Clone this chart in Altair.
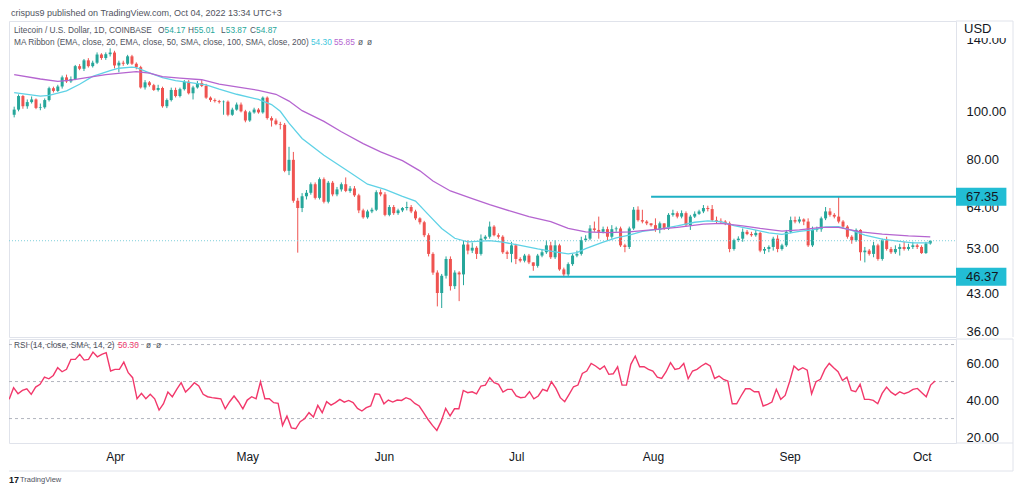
import altair as alt
import pandas as pd

# ---------------- data ----------------
START_DATE = "2022-03-08"
FIRST_OPEN = 98.7
CLOSE = [
    101.1, 107.7, 102.7, 104.7, 106.0, 101.9, 102.2, 105.7, 111.7, 110.3,
    112.6, 117.5, 115.3, 116.6, 123.8, 122.3, 127.2, 123.8, 125.8, 130.7,
    128.6, 130.9, 131.9, 124.2, 125.8, 125.2, 129.6, 125.2, 123.2, 112.1,
    114.8, 113.3, 110.8, 111.8, 102.7, 105.7, 110.8, 107.7, 111.2, 115.1,
    109.1, 112.1, 114.4, 112.9, 106.9, 105.7, 105.2, 104.7, 104.9, 98.7,
    101.1, 103.5, 100.3, 96.1, 99.8, 101.1, 99.8, 106.9, 97.2, 96.1,
    94.5, 94.2, 76.0, 80.0, 66.1, 63.9, 67.5, 68.6, 71.4, 67.0,
    73.1, 65.8, 71.9, 68.1, 69.7, 71.4, 69.2, 70.0, 67.8, 63.2,
    61.2, 62.9, 63.4, 68.8, 68.1, 61.9, 64.2, 62.4, 63.2, 63.9,
    64.2, 62.9, 60.9, 59.8, 56.3, 51.6, 47.3, 43.0, 46.6, 50.4,
    44.4, 47.3, 46.9, 53.9, 52.4, 53.1, 51.6, 55.4, 55.9, 58.6,
    56.3, 55.9, 52.0, 51.6, 53.7, 50.4, 50.0, 51.2, 49.6, 48.8,
    51.2, 52.0, 53.7, 50.8, 53.7, 48.0, 46.9, 49.2, 51.2, 51.6,
    55.0, 55.4, 58.1, 57.7, 57.2, 57.9, 55.9, 57.9, 58.1, 53.7,
    53.3, 58.1, 63.4, 60.4, 60.0, 59.5, 59.0, 57.7, 59.5, 58.1,
    61.9, 62.4, 61.4, 62.4, 59.0, 61.4, 62.2, 62.9, 63.9, 63.6,
    60.4, 60.2, 60.0, 59.5, 52.8, 55.0, 55.4, 57.2, 56.6, 56.3,
    56.9, 52.4, 52.8, 53.3, 55.4, 52.8, 53.7, 57.2, 60.4, 60.0,
    60.6, 60.0, 53.7, 57.7, 57.9, 60.9, 62.9, 61.9, 61.4, 60.0,
    58.6, 55.9, 55.0, 57.7, 52.0, 52.4, 51.6, 53.7, 50.4, 55.0,
    52.8, 52.0, 52.8, 53.3, 52.8, 53.3, 53.7, 53.3, 51.8, 54.17,
    54.87,
]
HIGH = [
    102.5, 108.5, 108.2, 106.0, 107.5, 106.5, 104.0, 106.5, 112.5, 112.5,
    113.5, 118.5, 119.0, 118.0, 124.5, 125.0, 128.0, 128.5, 127.0, 132.0,
    131.5, 132.0, 134.5, 133.0, 127.0, 127.0, 130.5, 130.5, 126.0, 124.0,
    116.0, 115.5, 114.0, 113.5, 112.5, 106.5, 112.0, 112.0, 112.0, 116.0,
    116.0, 113.0, 115.5, 116.0, 114.0, 107.5, 106.5, 105.8, 105.5, 105.5,
    102.0, 104.5, 104.5, 101.0, 100.5, 102.0, 101.8, 107.5, 107.5, 98.0,
    97.0, 95.5, 95.0, 85.0, 83.0, 67.0, 68.5, 69.5, 72.0, 72.0,
    73.7, 73.7, 72.5, 72.5, 70.5, 72.0, 73.7, 70.8, 70.8, 68.3,
    63.7, 63.4, 64.0, 69.4, 69.7, 68.8, 64.8, 64.8, 63.7, 64.2,
    65.8, 64.8, 63.4, 61.2, 60.2, 56.8, 52.0, 47.8, 47.0, 51.0,
    51.0, 47.8, 47.6, 54.8, 55.0, 54.4, 53.5, 56.5, 56.3, 60.0,
    59.0, 56.8, 56.3, 52.4, 54.6, 54.1, 50.8, 51.6, 51.6, 49.6,
    51.6, 52.8, 55.0, 54.6, 55.0, 54.1, 48.4, 49.6, 51.6, 52.4,
    55.9, 56.3, 59.0, 60.0, 61.4, 58.6, 58.6, 59.0, 58.6, 58.6,
    54.1, 58.6, 64.2, 64.4, 63.4, 60.4, 59.5, 60.9, 60.0, 59.5,
    62.4, 63.4, 62.9, 63.2, 62.9, 61.9, 62.9, 63.4, 64.8, 64.6,
    64.8, 61.4, 60.9, 60.4, 60.0, 55.4, 56.0, 58.1, 57.7, 57.2,
    57.7, 57.2, 53.3, 53.7, 55.9, 56.3, 54.1, 57.7, 61.4, 61.4,
    61.4, 60.9, 60.9, 58.6, 58.6, 61.4, 64.2, 63.9, 62.4, 67.3,
    60.4, 59.0, 56.3, 58.1, 57.9, 53.3, 52.8, 54.6, 54.1, 55.4,
    55.9, 53.3, 53.7, 54.1, 54.6, 54.1, 54.6, 54.1, 53.7, 54.6,
    55.01,
]
LOW = [
    97.5, 100.3, 101.5, 101.5, 104.0, 101.3, 100.8, 101.5, 105.0, 109.5,
    109.8, 111.5, 114.5, 114.5, 116.0, 121.5, 121.0, 123.0, 123.0, 125.0,
    127.5, 127.5, 129.5, 122.5, 120.3, 124.0, 124.5, 124.5, 122.0, 111.5,
    111.0, 112.5, 110.3, 110.0, 102.0, 101.8, 105.0, 107.0, 107.0, 110.5,
    108.5, 106.0, 111.5, 112.3, 106.3, 104.8, 104.5, 104.0, 98.7, 98.0,
    98.2, 100.6, 99.8, 95.3, 95.5, 99.2, 99.2, 99.2, 96.5, 93.4,
    94.0, 92.2, 75.5, 74.5, 65.5, 51.9, 62.7, 66.5, 68.0, 66.5,
    66.5, 65.3, 65.3, 67.5, 67.5, 69.0, 68.8, 68.6, 67.3, 62.4,
    60.8, 60.8, 62.4, 63.0, 67.5, 61.5, 61.5, 61.9, 61.9, 62.7,
    63.2, 62.4, 60.4, 59.2, 55.8, 51.0, 46.8, 40.4, 40.1, 46.0,
    43.5, 43.8, 41.4, 44.6, 51.5, 51.8, 50.4, 51.2, 55.0, 55.4,
    56.0, 55.4, 51.6, 50.4, 49.6, 49.2, 49.6, 49.6, 49.2, 47.7,
    48.4, 50.8, 51.6, 50.4, 50.4, 47.7, 46.3, 46.4, 48.8, 50.8,
    51.2, 54.6, 55.0, 57.2, 55.4, 56.8, 55.0, 55.4, 57.2, 53.3,
    52.0, 52.8, 57.7, 60.0, 59.5, 59.0, 58.6, 57.2, 56.8, 57.7,
    57.7, 61.4, 60.9, 60.9, 58.6, 57.7, 61.0, 61.9, 62.4, 62.9,
    60.0, 59.5, 59.5, 59.0, 52.0, 52.4, 54.6, 54.6, 56.3, 55.9,
    55.9, 52.0, 51.6, 52.0, 52.4, 52.0, 52.4, 53.3, 56.8, 59.5,
    59.5, 59.0, 53.3, 53.3, 57.2, 57.2, 60.4, 61.4, 60.9, 59.5,
    58.1, 55.4, 54.1, 54.6, 50.0, 49.6, 51.2, 50.8, 50.0, 50.0,
    52.4, 51.6, 51.6, 51.2, 52.4, 52.4, 52.8, 52.8, 51.6, 51.6,
    53.87,
]

EMA20_IDX = [0, 6, 8, 12, 15, 18, 22, 24, 27, 28, 31, 34, 37, 40, 44, 47, 51, 56, 59, 61,
             63, 66, 71, 77, 81, 85, 89, 92, 95, 98, 101, 104, 109, 112, 116, 120, 124, 127, 129, 131,
             135, 138, 141, 144, 148, 152, 156, 159, 162, 165, 169, 173, 176, 180, 183, 186, 189, 192, 195, 199,
             203, 206, 210]
EMA20_VAL = [109.4, 107.7, 108.0, 110.3, 113.8, 118.0, 121.3, 122.6, 123.2, 123.0, 120.0, 117.3, 115.7, 114.8, 113.5, 111.2, 108.6, 106.0, 103.5, 100.3,
             94.9, 88.4, 81.7, 75.4, 71.4, 69.7, 67.5, 66.0, 61.9, 58.1, 55.5, 54.6, 54.9, 54.5, 53.7, 52.8, 52.1, 51.6, 51.9, 52.9,
             54.5, 55.6, 56.3, 57.3, 57.9, 58.8, 59.8, 60.2, 60.0, 58.9, 57.9, 56.9, 56.5, 57.3, 57.7, 58.5, 58.6, 57.6, 56.3, 55.3,
             54.7, 54.3, 54.30]
SMA50_IDX = [0, 6, 10, 13, 17, 21, 25, 28, 31, 34, 38, 43, 47, 51, 56, 60, 63, 66, 71, 75,
             80, 84, 89, 93, 96, 100, 105, 109, 114, 118, 123, 127, 131, 136, 141, 146, 152, 158, 162, 167,
             171, 176, 180, 185, 189, 194, 199, 205, 210]
SMA50_VAL = [119.0, 116.6, 115.3, 116.0, 117.5, 119.0, 120.0, 120.7, 119.8, 117.9, 117.1, 116.2, 113.8, 112.4, 110.6, 108.6, 105.2, 100.6, 95.7, 91.2,
             86.3, 83.0, 79.7, 76.0, 72.5, 69.2, 66.8, 64.9, 62.9, 61.4, 60.0, 58.1, 57.2, 57.0, 57.2, 57.7, 58.4, 59.3, 59.5, 58.8,
             58.1, 57.4, 57.7, 58.4, 58.4, 57.2, 56.6, 56.1, 55.85]
RSI14 = [
    40.4, 46.7, 43.4, 45.2, 46.1, 43.1, 47.0, 48.5, 52.4, 51.5,
    53.3, 57.5, 55.3, 56.6, 62.0, 62.0, 64.7, 61.6, 62.0, 65.9,
    63.4, 64.7, 65.6, 55.7, 56.6, 56.6, 60.5, 54.8, 52.1, 40.7,
    43.6, 40.7, 43.1, 40.7, 34.6, 38.0, 44.3, 41.8, 45.8, 49.4,
    44.3, 46.7, 49.4, 47.6, 43.1, 41.8, 41.3, 41.0, 40.7, 35.3,
    39.1, 42.2, 39.1, 35.3, 40.0, 41.8, 40.7, 49.9, 40.7, 40.7,
    38.6, 38.2, 26.3, 31.4, 25.0, 24.5, 28.3, 29.9, 33.2, 30.8,
    37.1, 33.2, 39.1, 37.3, 38.6, 40.4, 38.9, 39.8, 38.6, 35.5,
    34.1, 35.9, 36.8, 43.4, 43.1, 38.0, 40.0, 38.9, 40.0, 39.8,
    41.3, 40.4, 38.2, 36.8, 33.2, 29.5, 26.3, 23.6, 28.6, 35.5,
    31.4, 35.3, 35.3, 45.2, 44.0, 44.5, 43.4, 47.6, 48.1, 52.1,
    49.4, 48.5, 44.3, 45.8, 45.8, 42.2, 41.3, 41.6, 44.5, 40.7,
    42.2, 45.8, 44.9, 49.9, 46.3, 41.3, 39.1, 43.1, 47.2, 48.1,
    54.4, 55.7, 59.8, 58.4, 56.6, 58.4, 53.9, 54.2, 58.0, 48.1,
    48.1, 59.3, 63.8, 58.0, 58.0, 56.6, 55.7, 52.4, 51.7, 55.3,
    60.2, 56.6, 57.1, 59.8, 51.5, 55.7, 56.6, 58.4, 59.8, 58.4,
    51.7, 53.0, 51.2, 50.3, 38.0, 38.0, 42.2, 46.1, 46.1, 44.5,
    44.5, 36.8, 37.7, 38.9, 45.8, 40.4, 42.5, 49.9, 58.4, 56.2,
    57.5, 56.2, 43.4, 49.9, 51.2, 56.6, 59.8, 57.5, 55.3, 50.6,
    52.4, 45.2, 44.5, 48.5, 40.4, 40.4, 39.8, 38.0, 43.6, 47.0,
    44.3, 42.7, 44.5, 43.4, 44.3, 45.8, 46.3, 44.0, 41.8, 48.1,
    50.3,
]

PRICE_TICKS = [36, 43, 53, 64, 80, 100, 140]
RSI_TICKS = [20, 40, 60]
RSI_LEVELS = [70, 50, 30]
LEVELS = [67.35, 46.37]
LEVEL_STARTS = ["2022-08-01", "2022-07-04"]
LAST_PRICE = 54.87
MONTH_TICKS = [4, 5, 6, 7, 8, 9, 10]

HEADER = "crispus9 published on TradingView.com, Oct 04, 2022 13:34 UTC+3"
SYMBOL = "Litecoin / U.S. Dollar, 1D, COINBASE"
OHLC_LABELS = ["O", "H", "L", "C"]
OHLC_VALUES = ["54.17", "55.01", "53.87", "54.87"]
MA_TEXT = "MA Ribbon (EMA, close, 20, EMA, close, 50, SMA, close, 100, SMA, close, 200)"
MA_VALUES = ["54.30", "55.85"]
RSI_TEXT = "RSI (14, close, SMA, 14, 2)"
RSI_VALUE = "50.30"
NA = "ø"

# ---------------- styling ----------------
FONT = "Liberation Sans"
UP, DOWN = "#26a69a", "#ef5350"
CYAN, PURPLE = "#5fd2e6", "#b565d0"
TEAL, TAG = "#1fb0c4", "#22bdd4"
PINK = "#f2386b"
FRAME = "#e0e3eb"
TXT = "#131722"
GREY = "#50535e"
LEG = 8.3
W, H1, H2 = 947, 316, 104
RIGHT = 1004

# ---------------- tables ----------------
start = pd.Timestamp(START_DATE)
n = len(CLOSE)
dates = [start + pd.Timedelta(days=i) for i in range(n)]
OPEN = [FIRST_OPEN] + CLOSE[:-1]
candles = pd.DataFrame({"date": dates, "open": OPEN, "high": HIGH, "low": LOW, "close": CLOSE})
candles["dir"] = ["up" if c >= o else "down" for o, c in zip(OPEN, CLOSE)]
ema = pd.DataFrame({"date": [start + pd.Timedelta(days=i) for i in EMA20_IDX], "v": EMA20_VAL})
sma = pd.DataFrame({"date": [start + pd.Timedelta(days=i) for i in SMA50_IDX], "v": SMA50_VAL})
rsi = pd.DataFrame({"date": dates, "v": RSI14})
levels = pd.DataFrame({"start": pd.to_datetime(LEVEL_STARTS), "p": LEVELS})
one = pd.DataFrame({"a": [0]})

xdom = [alt.DateTime(year=2022, month=3, date=7, hours=23),
        alt.DateTime(year=2022, month=10, date=8, hours=18)]
xscale = alt.Scale(domain=xdom)
yscale = alt.Scale(type="log", domain=[35.03, 152.8], nice=False, zero=False)
yaxis = alt.Axis(orient="right", values=PRICE_TICKS, format=".2f", labelFont=FONT,
                 labelFontSize=13, labelColor=TXT, labelAlign="left", labelPadding=10,
                 ticks=False, tickSize=0, domain=False, grid=False)


def X(field="date"):
    return alt.X(f"{field}:T", scale=xscale, axis=None, title=None)


def Y(field):
    return alt.Y(f"{field}:Q", scale=yscale, axis=yaxis, title=None)


def txt(s, x, y, color, size=LEG, weight="normal", align="left"):
    return alt.Chart(pd.DataFrame({"t": [s]})).mark_text(
        align=align, baseline="middle", font=FONT, fontSize=size, color=color, fontWeight=weight
    ).encode(x=alt.value(x), y=alt.value(y), text="t:N")


def vrule(x, y1, y2):
    return alt.Chart(one).mark_rule(color=FRAME, strokeWidth=1).encode(
        x=alt.value(x), y=alt.value(y1), y2=alt.value(y2))


def hrule(y, x1, x2):
    return alt.Chart(one).mark_rule(color=FRAME, strokeWidth=1).encode(
        y=alt.value(y), x=alt.value(x1), x2=alt.value(x2))


color = alt.Color("dir:N", scale=alt.Scale(domain=["up", "down"], range=[UP, DOWN]), legend=None)
base = alt.Chart(candles)
wicks = base.mark_rule(strokeWidth=1, clip=True).encode(x=X(), y=Y("low"), y2="high:Q", color=color)
bodies = base.mark_bar(size=3, clip=True).encode(x=X(), y=Y("open"), y2="close:Q", color=color)
ema_line = alt.Chart(ema).mark_line(color=CYAN, strokeWidth=1.3, clip=True).encode(x=X(), y=Y("v"))
sma_line = alt.Chart(sma).mark_line(color=PURPLE, strokeWidth=1.3, clip=True).encode(x=X(), y=Y("v"))
level_lines = alt.Chart(levels).mark_rule(color=TEAL, strokeWidth=2).encode(
    x=X("start"), x2=alt.value(W), y=Y("p"))
last_line = alt.Chart(pd.DataFrame({"p": [LAST_PRICE]})).mark_rule(
    color="#7fd0db", strokeDash=[1, 2], strokeWidth=1).encode(x=alt.value(0), x2=alt.value(W), y=Y("p"))
tags = alt.Chart(levels).mark_point(shape="M0,-1H5.6V1H0Z", size=324, filled=True, color=TAG,
                                    opacity=1, strokeWidth=0).encode(x=alt.value(W), y=Y("p"))
tag_text = alt.Chart(levels).mark_text(align="left", baseline="middle", font=FONT, fontSize=13,
                                       color=TXT).encode(
    x=alt.value(W + 10), y=Y("p"), text=alt.Text("p:Q", format=".2f"))
cover = alt.Chart(one).mark_rect(color="white").encode(
    x=alt.value(W + 2), x2=alt.value(W + 56), y=alt.value(1), y2=alt.value(17))

main_layers = [wicks, bodies, ema_line, sma_line, level_lines, last_line, tags, tag_text, cover,
               txt("USD", W + 8, 8, TXT, size=13),
               txt(HEADER, 2, -8, GREY, size=9),
               txt(SYMBOL, 5, 10, GREY)]
ohlc_x = [149, 179, 212, 241]
ohlc_w = [6.6, 6.1, 4.8, 6.1]
for lab, val, x0, w in zip(OHLC_LABELS, OHLC_VALUES, ohlc_x, ohlc_w):
    main_layers.append(txt(lab, x0, 10, GREY))
    main_layers.append(txt(val, x0 + w, 10, UP))
main_layers += [txt(MA_TEXT, 5, 22, GREY),
                txt(MA_VALUES[0], 302, 22, "#3ec7dd"),
                txt(MA_VALUES[1], 325, 22, PURPLE),
                txt(NA, 349, 22, GREY),
                txt(NA, 358, 22, GREY),
                hrule(0, W, RIGHT), vrule(RIGHT, 0, H1)]
main = alt.layer(*main_layers).properties(width=W, height=H1)

# ---------------- RSI panel ----------------
rscale = alt.Scale(domain=[16.8, 73.0], nice=False, zero=False)
raxis = alt.Axis(orient="right", values=RSI_TICKS, format=".2f", labelFont=FONT, labelFontSize=13,
                 labelColor=TXT, labelAlign="left", labelPadding=10, ticks=False, tickSize=0,
                 domain=False, grid=False)
xaxis = alt.Axis(values=[alt.DateTime(year=2022, month=m, date=1) for m in MONTH_TICKS], format="%b",
                 labelFont=FONT, labelFontSize=12, labelColor=TXT, ticks=False, domain=False,
                 grid=False, labelPadding=8, labelFlush=False)
rsi_line = alt.Chart(rsi).mark_line(color=PINK, strokeWidth=1.4, clip=True).encode(
    x=alt.X("date:T", scale=xscale, axis=xaxis, title=None),
    y=alt.Y("v:Q", scale=rscale, axis=raxis, title=None))
rsi_levels = alt.Chart(pd.DataFrame({"l": RSI_LEVELS})).mark_rule(
    color="#b2b5be", strokeDash=[3, 3], strokeWidth=1).encode(
    x=alt.value(0), x2=alt.value(W), y=alt.Y("l:Q", scale=rscale, axis=raxis, title=None))
rsi_panel = alt.layer(
    rsi_levels, rsi_line,
    txt(RSI_TEXT, 5, 7, GREY),
    txt(RSI_VALUE, 109, 7, PINK),
    txt(NA, 137, 7, GREY),
    txt(NA, 147, 7, GREY),
    hrule(0, W, RIGHT), hrule(H2, W, RIGHT), hrule(H2 + 28, 0, RIGHT), vrule(RIGHT, 0, H2 + 28),
    txt("17", 0, H2 + 37, TXT, size=9, weight="bold"),
    txt("TradingView", 11, H2 + 37, GREY, size=7.5),
).properties(width=W, height=H2)

chart = alt.vconcat(main, rsi_panel, spacing=-2).properties(padding=0).configure_view(
    stroke=FRAME, strokeWidth=1)

chart.save("out.html", embed_options={"renderer": "svg", "actions": False})
